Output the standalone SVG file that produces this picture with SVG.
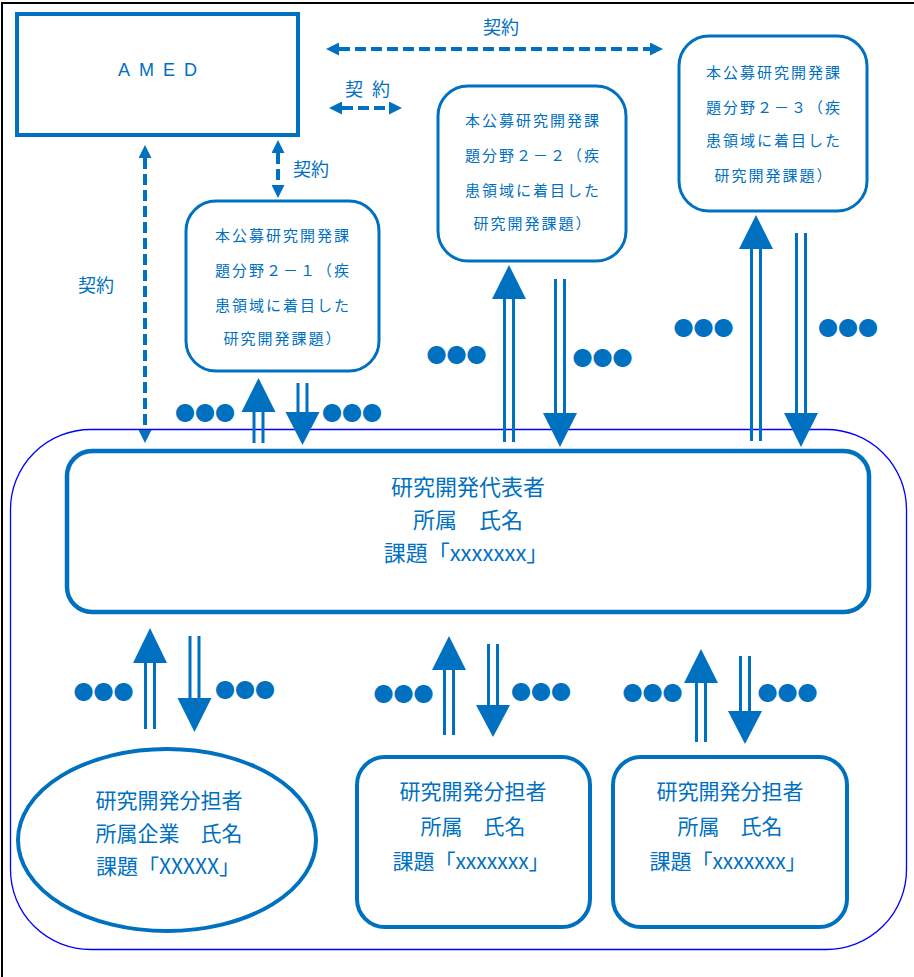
<svg xmlns="http://www.w3.org/2000/svg" width="914" height="977" viewBox="0 0 914 977">
<style>
.bx{fill:#fff;stroke:#0070C0}
.t{font-family:"Noto Sans CJK JP","Noto Sans",sans-serif;fill:#0070C0;text-anchor:middle}
.s{font-size:15px;letter-spacing:2px}
.m{font-size:21px}
.lb{font-family:"Noto Sans CJK JP","Noto Sans",sans-serif;fill:#0070C0;font-size:18px}
.dots{font-family:"Noto Sans CJK JP",sans-serif;fill:#0070C0;font-size:20px;text-anchor:middle}
.dash{fill:none;stroke:#0070C0;stroke-width:4;stroke-dasharray:11 5}
.sh{fill:none;stroke:#0070C0;stroke-width:3}
.hd{fill:#0070C0}
</style>
<defs>
<marker id="ah" markerUnits="userSpaceOnUse" markerWidth="14" markerHeight="13" refX="0" refY="6.5" orient="auto-start-reverse">
<path d="M0,0 L13,6.5 L0,13 z" fill="#0070C0"/>
</marker>
</defs>
<rect width="914" height="977" fill="#fff"/>
<path d="M2,977 V3 H914" fill="none" stroke="#000" stroke-width="2"/>
<rect id="container" x="10.5" y="429.5" width="896" height="520" rx="80" fill="none" stroke="#0000FF" stroke-width="1.3"/>

<g id="amed">
<rect class="bx" x="17" y="14" width="281" height="121" stroke-width="4"/>
<text x="118" y="76" font-family="Liberation Sans,Arial,sans-serif" font-size="18" letter-spacing="9" fill="#0070C0">AMED</text>
</g>

<g id="topic21">
<rect class="bx" x="186" y="201" width="193" height="170" rx="30" stroke-width="3"/>
<text class="t s" x="283" y="241">本公募研究開発課</text>
<text class="t s" x="283" y="276">題分野２－１（疾</text>
<text class="t s" x="283" y="311">患領域に着目した</text>
<text class="t s" x="283" y="344">研究開発課題）</text>
</g>

<g id="topic22">
<rect class="bx" x="438" y="86" width="188" height="175" rx="30" stroke-width="3"/>
<text class="t s" x="533" y="126">本公募研究開発課</text>
<text class="t s" x="533" y="161">題分野２－２（疾</text>
<text class="t s" x="533" y="196">患領域に着目した</text>
<text class="t s" x="533" y="229">研究開発課題）</text>
</g>

<g id="topic23">
<rect class="bx" x="679" y="36" width="188" height="175" rx="30" stroke-width="3"/>
<text class="t s" x="774" y="78">本公募研究開発課</text>
<text class="t s" x="774" y="113">題分野２－３（疾</text>
<text class="t s" x="774" y="146">患領域に着目した</text>
<text class="t s" x="774" y="181">研究開発課題）</text>
</g>

<g id="representative">
<rect class="bx" x="67" y="451" width="802" height="161" rx="25" stroke-width="4.5"/>
<text class="t" font-size="22" x="468" y="495">研究開発代表者</text>
<text class="t" font-size="22" x="468" y="528">所属　氏名</text>
<text class="t" font-size="22" x="466" y="561">課題「xxxxxxx」</text>
</g>

<g id="sub1">
<ellipse class="bx" cx="167" cy="840" rx="149" ry="91" stroke-width="4"/>
<text class="t m" x="169" y="808">研究開発分担者</text>
<text class="t m" x="169" y="841">所属企業　氏名</text>
<text class="t m" x="168" y="874">課題「XXXXX」</text>
</g>

<g id="sub2">
<rect class="bx" x="357" y="757" width="233" height="170" rx="28" stroke-width="4"/>
<text class="t m" x="473" y="799">研究開発分担者</text>
<text class="t m" x="473" y="834">所属　氏名</text>
<text class="t m" x="471" y="869">課題「xxxxxxx」</text>
</g>

<g id="sub3">
<rect class="bx" x="613" y="757" width="234" height="170" rx="28" stroke-width="4"/>
<text class="t m" x="730" y="799">研究開発分担者</text>
<text class="t m" x="730" y="834">所属　氏名</text>
<text class="t m" x="728" y="869">課題「xxxxxxx」</text>
</g>

<g id="connectors">
<!-- contract dashed arrows -->
<path class="dash" d="M339,49 H650" marker-start="url(#ah)" marker-end="url(#ah)"/>
<text class="lb" x="483" y="34">契約</text>
<path class="dash" d="M342,108 H389" marker-start="url(#ah)" marker-end="url(#ah)"/>
<text class="lb" x="345" y="96" letter-spacing="2.5">契 約</text>
<path class="dash" d="M278,153 V185" marker-start="url(#ah)" marker-end="url(#ah)"/>
<text class="lb" x="293" y="176">契約</text>
<path class="dash" d="M145,158 V430" marker-start="url(#ah)" marker-end="url(#ah)"/>
<text class="lb" x="78" y="292">契約</text>

<!-- block arrows up -->
<path class="sh" d="M254,412 V443 M263,412 V443"/><polygon class="hd" points="258.5,378 275.5,412 241.5,412"/>
<path class="sh" d="M504.5,299 V442 M513.5,299 V442"/><polygon class="hd" points="509,265 526,299 492,299"/>
<path class="sh" d="M751.5,249 V441 M760.5,249 V441"/><polygon class="hd" points="756,215 773,249 739,249"/>
<path class="sh" d="M145.5,663 V729 M154.5,663 V729"/><polygon class="hd" points="150,628 167,663 133,663"/>
<path class="sh" d="M444.5,670 V735 M453.5,670 V735"/><polygon class="hd" points="449,636 466,670 432,670"/>
<path class="sh" d="M696.5,683 V742 M705.5,683 V742"/><polygon class="hd" points="701,649 718,683 684,683"/>
<!-- block arrows down -->
<path class="sh" d="M298,383 V412 M307,383 V412"/><polygon class="hd" points="302.5,445 319.5,412 285.5,412"/>
<path class="sh" d="M555.5,279 V413 M564.5,279 V413"/><polygon class="hd" points="560,447 577,413 543,413"/>
<path class="sh" d="M796.5,233 V413 M805.5,233 V413"/><polygon class="hd" points="801,447 818,413 784,413"/>
<path class="sh" d="M190,636 V698 M199,636 V698"/><polygon class="hd" points="194.5,732 211.5,698 177.5,698"/>
<path class="sh" d="M488.5,644 V705 M497.5,644 V705"/><polygon class="hd" points="493,737 510,705 476,705"/>
<path class="sh" d="M740.5,656 V711 M749.5,656 V711"/><polygon class="hd" points="745,744 762,711 728,711"/>

<!-- dots -->
<text class="dots" x="205" y="421">●●●</text>
<text class="dots" x="352" y="421">●●●</text>
<text class="dots" x="456.5" y="363">●●●</text>
<text class="dots" x="602.5" y="366">●●●</text>
<text class="dots" x="703.5" y="336">●●●</text>
<text class="dots" x="848" y="336">●●●</text>
<text class="dots" x="103.5" y="700">●●●</text>
<text class="dots" x="245" y="698">●●●</text>
<text class="dots" x="403.5" y="702">●●●</text>
<text class="dots" x="541" y="700">●●●</text>
<text class="dots" x="652.5" y="701">●●●</text>
<text class="dots" x="787.5" y="701">●●●</text>
</g>
</svg>
